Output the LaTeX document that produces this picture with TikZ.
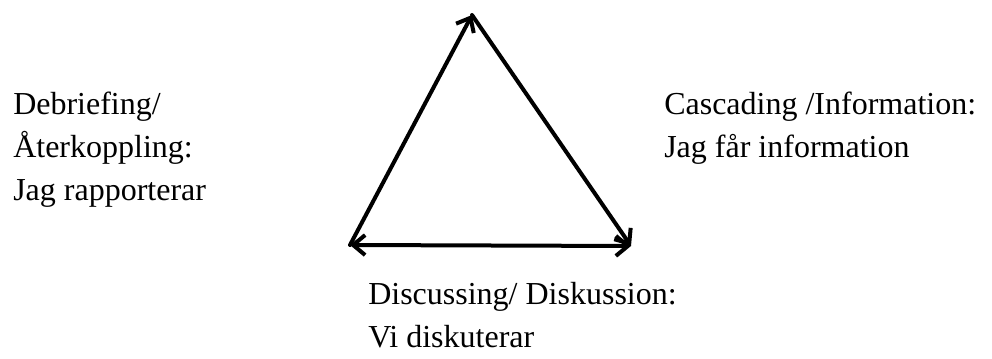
\documentclass[tikz,border=0pt]{standalone}
\usepackage{fontspec}
\setmainfont{Liberation Serif}
\usetikzlibrary{arrows.meta,positioning}

\tikzset{
  barb/.tip={Straight Barb[length=9pt,width=15pt,line width=3pt]},
  edge/.style={line width=3pt,line cap=round,-barb},
  label/.style={anchor=base west,align=left,inner sep=0pt,font=\fontsize{24}{32.25}\selectfont}
}

\begin{document}
\begin{tikzpicture}[x=0.75pt,y=-0.75pt]
    \useasboundingbox (0,0) rectangle (992,359);

    % corners of the triangle
    \coordinate (top) at (472,15);
    \coordinate (left) at (350,245);
    \coordinate (right) at (631,246);

    \draw[edge] (left) -- (top);
    \draw[edge] (top) -- (right);
    \draw[edge,barb-barb] (left) -- (right);

    % labels (anchored at the baseline of the last line)
    \node[label] (debrief) at (13,201) {Debriefing/\\Återkoppling:\\Jag rapporterar};
    \node[label] (cascade) at (664,158) {Cascading /Information:\\Jag får information};
    \node[label] (discuss) at (368,348) {Discussing/ Diskussion:\\Vi diskuterar};
\end{tikzpicture}
\end{document}
